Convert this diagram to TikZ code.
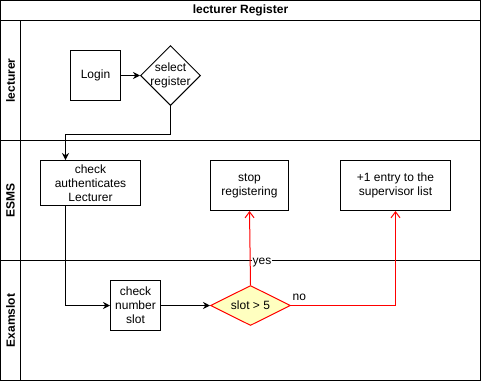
\documentclass[tikz,border=0pt]{standalone}
\usepackage{fontspec}
\setmainfont{Liberation Sans}
\usetikzlibrary{arrows.meta,shapes.geometric}

\definecolor{noteyellow}{HTML}{FFFFC0}

\tikzset{
    every picture/.style={x=1pt,y=-1pt,line width=1pt},
    txt/.style={font=\fontsize{12}{14}\selectfont},
    box/.style={txt,draw,fill=white,align=center,inner sep=1pt},
    choice/.style={txt,draw,diamond,align=center,inner sep=0pt},
    flow/.style={-{Stealth[length=7pt,width=7pt]}},
    redflow/.style={draw=red,-{Straight Barb[length=6pt,width=9pt]}},
    lane/.style={txt,font=\fontsize{12}{14}\selectfont\bfseries,rotate=90}
}

\begin{document}
\begin{tikzpicture}
    \useasboundingbox (-0.5,-0.5) rectangle (480.5,380.5);
    \draw (0,0) rectangle (480,380);
    \draw (0,20) -- (480,20);
    \draw (20,20) -- (20,380);
    \foreach \y in {140,260}
        {\draw (0,\y) -- (480,\y);}
    \node[txt,font=\fontsize{12}{14}\selectfont\bfseries] (title) at (240,10) {lecturer Register};
    \foreach \n/\y/\t in {lecturer/80/lecturer,esms/200/ESMS,examslot/320/Examslot}
        {\node[lane] (\n) at (10,\y) {\t};}

    \node[box,minimum width=50,minimum height=50] (login) at (95,75) {Login};
    \node[choice,minimum width=60,minimum height=60,inner sep=-7pt] (select) at (170,75) {select\\register};
    \node[box,minimum width=100,minimum height=45] (auth) at (90,182.5) {check\\authenticates\\Lecturer};
    \node[box,minimum width=78,minimum height=50] (stopreg) at (249,185) {stop\\registering};
    \node[box,minimum width=110,minimum height=50] (entry) at (395,185) {+1 entry to the\\supervisor list};
    \node[box,minimum width=50,minimum height=50] (numslot) at (135,305) {check\\number\\slot};
    \node[choice,draw=red,fill=noteyellow,aspect=2,minimum width=80,minimum height=40] (slotchk) at (250,305) {slot \textgreater{} 5};

    \draw[flow] (login) -- (select);
    \draw[flow] (select.south) -- ++(0,28) -| ([xshift=-25]auth.north);
    \draw[flow] ([xshift=-25]auth.south) |- (numslot.west);
    \draw[flow] (numslot) -- (slotchk);
    \draw[redflow] (slotchk.north) -- node[txt,pos=0.3,anchor=west,fill=white,inner sep=1pt,xshift=1pt] (yes) {yes} (stopreg.south);
    \draw[redflow] (slotchk.east) -| node[txt,pos=0.04,above,inner sep=4pt] (no) {no} (entry.south);
\end{tikzpicture}
\end{document}
